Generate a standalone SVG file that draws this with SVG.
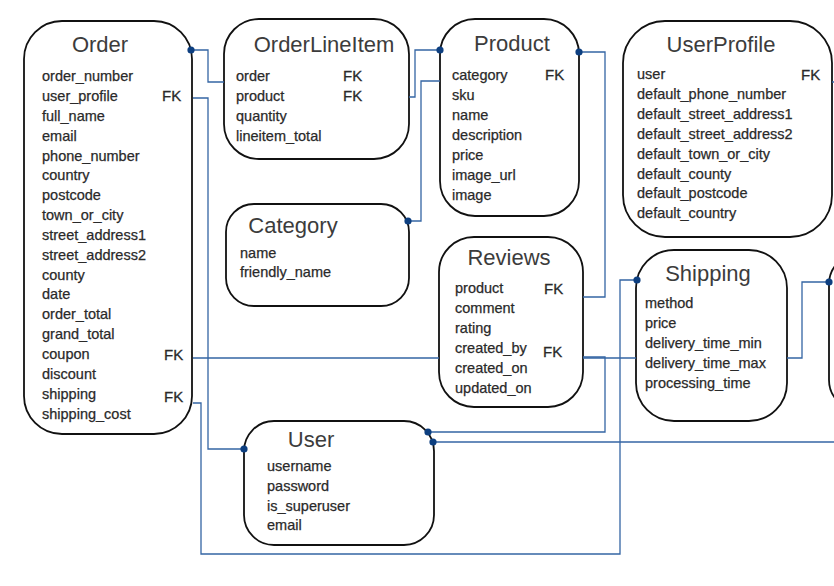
<svg xmlns="http://www.w3.org/2000/svg" width="834" height="586" viewBox="0 0 834 586">
<style>
.box{fill:#fff;stroke:#111;stroke-width:1.8}
.title{font-family:"Liberation Sans",Arial,sans-serif;font-size:22px;fill:#3c3c3c;text-anchor:middle}
.f{font-family:"Liberation Sans",Arial,sans-serif;font-size:14.5px;fill:#2a2a2a;stroke:#2a2a2a;stroke-width:0.25}
.fk{font-family:"Liberation Sans",Arial,sans-serif;font-size:15px;fill:#2a2a2a;stroke:#2a2a2a;stroke-width:0.3}
.c{fill:none;stroke:#3465a4;stroke-width:1.3}
</style>
<defs>
<marker id="dot" markerWidth="8" markerHeight="8" refX="4" refY="4" markerUnits="userSpaceOnUse"><circle cx="4" cy="4" r="3.6" fill="#0d3f80"/></marker>
</defs>
<rect width="834" height="586" fill="#fff"/>

<g id="Order">
<rect class="box" x="24" y="21" width="168" height="413" rx="38"/>
<text class="title" x="100" y="52">Order</text>
<text class="f" x="42" y="81">order_number</text>
<text class="f" x="42" y="101">user_profile</text>
<text class="f" x="42" y="121">full_name</text>
<text class="f" x="42" y="141">email</text>
<text class="f" x="42" y="161">phone_number</text>
<text class="f" x="42" y="180">country</text>
<text class="f" x="42" y="200">postcode</text>
<text class="f" x="42" y="220">town_or_city</text>
<text class="f" x="42" y="240">street_address1</text>
<text class="f" x="42" y="260">street_address2</text>
<text class="f" x="42" y="280">county</text>
<text class="f" x="42" y="299">date</text>
<text class="f" x="42" y="319">order_total</text>
<text class="f" x="42" y="339">grand_total</text>
<text class="f" x="42" y="359">coupon</text>
<text class="f" x="42" y="379">discount</text>
<text class="f" x="42" y="399">shipping</text>
<text class="f" x="42" y="419">shipping_cost</text>
<text class="fk" x="162" y="101">FK</text>
<text class="fk" x="164" y="360">FK</text>
<text class="fk" x="164" y="402">FK</text>
</g>

<g id="OrderLineItem">
<rect class="box" x="224" y="19" width="185" height="140" rx="35"/>
<text class="title" x="324" y="52">OrderLineItem</text>
<text class="f" x="236" y="81">order</text>
<text class="f" x="236" y="101">product</text>
<text class="f" x="236" y="121">quantity</text>
<text class="f" x="236" y="141">lineitem_total</text>
<text class="fk" x="343" y="81">FK</text>
<text class="fk" x="343" y="101">FK</text>
</g>

<g id="Product">
<rect class="box" x="440" y="19" width="139" height="197" rx="35"/>
<text class="title" x="512" y="51">Product</text>
<text class="f" x="452" y="80">category</text>
<text class="f" x="452" y="100">sku</text>
<text class="f" x="452" y="120">name</text>
<text class="f" x="452" y="140">description</text>
<text class="f" x="452" y="160">price</text>
<text class="f" x="452" y="180">image_url</text>
<text class="f" x="452" y="200">image</text>
<text class="fk" x="545" y="80">FK</text>
</g>

<g id="UserProfile">
<rect class="box" x="623" y="21" width="209" height="216" rx="42"/>
<text class="title" x="721" y="52">UserProfile</text>
<text class="f" x="637" y="79">user</text>
<text class="f" x="637" y="99">default_phone_number</text>
<text class="f" x="637" y="119">default_street_address1</text>
<text class="f" x="637" y="139">default_street_address2</text>
<text class="f" x="637" y="159">default_town_or_city</text>
<text class="f" x="637" y="179">default_county</text>
<text class="f" x="637" y="198">default_postcode</text>
<text class="f" x="637" y="218">default_country</text>
<text class="fk" x="801" y="80">FK</text>
</g>

<g id="Category">
<rect class="box" x="226" y="204" width="183" height="102" rx="28"/>
<text class="title" x="293" y="233">Category</text>
<text class="f" x="240" y="258">name</text>
<text class="f" x="240" y="277">friendly_name</text>
</g>

<g id="Reviews">
<rect class="box" x="439" y="237" width="144" height="170" rx="35"/>
<text class="title" x="509" y="265">Reviews</text>
<text class="f" x="455" y="293">product</text>
<text class="f" x="455" y="313">comment</text>
<text class="f" x="455" y="333">rating</text>
<text class="f" x="455" y="353">created_by</text>
<text class="f" x="455" y="373">created_on</text>
<text class="f" x="455" y="393">updated_on</text>
<text class="fk" x="544" y="294">FK</text>
<text class="fk" x="543" y="357">FK</text>
</g>

<g id="Shipping">
<rect class="box" x="636" y="250" width="151" height="171" rx="38"/>
<text class="title" x="708" y="281">Shipping</text>
<text class="f" x="645" y="308">method</text>
<text class="f" x="645" y="328">price</text>
<text class="f" x="645" y="348">delivery_time_min</text>
<text class="f" x="645" y="368">delivery_time_max</text>
<text class="f" x="645" y="388">processing_time</text>
</g>

<g id="Coupon">
<rect class="box" x="829" y="254" width="60" height="156" rx="30"/>
</g>

<g id="User">
<rect class="box" x="244" y="421" width="190" height="124" rx="30"/>
<text class="title" x="311" y="447">User</text>
<text class="f" x="267" y="471">username</text>
<text class="f" x="267" y="491">password</text>
<text class="f" x="267" y="511">is_superuser</text>
<text class="f" x="267" y="530">email</text>
</g>

<g id="connectors">
<path class="c" marker-start="url(#dot)" d="M191,50 H208 V82 H224"/>
<path class="c" marker-start="url(#dot)" d="M244,449 H208 V98 H193"/>
<path class="c" marker-start="url(#dot)" d="M440,50 H415 V97 H409"/>
<path class="c" marker-start="url(#dot)" d="M408,221 H421 V81 H440"/>
<path class="c" marker-start="url(#dot)" d="M579,52 H605 V297 H583"/>
<path class="c" marker-start="url(#dot)" d="M428,432 H605 V357 H583"/>
<path class="c" marker-start="url(#dot)" d="M637,280 H620 V554 H201 V403 H193"/>
<path class="c" marker-start="url(#dot)" d="M829,282 H802 V358 H787 M636,358 H583 M439,358 H193"/>
<path class="c" marker-start="url(#dot)" d="M433,442 H834"/>
<path class="c" d="M832,82 H834"/>
</g>
</svg>
